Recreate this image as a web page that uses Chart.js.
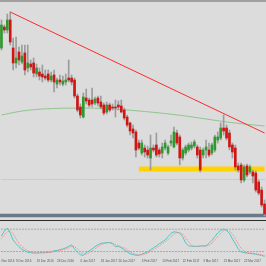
<!DOCTYPE html>
<html><head><meta charset="utf-8">
<script src="https://cdn.jsdelivr.net/npm/chart.js@4.4.0/dist/chart.umd.min.js"></script>
<style>
html,body{margin:0;padding:0;background:#dcdcdc;width:266px;height:266px;overflow:hidden;}
#wrap{position:relative;width:266px;height:266px;}
#main{position:absolute;left:0;top:0;}
#osc{position:absolute;left:0;top:221px;}
.topline{position:absolute;left:0;top:0;width:266px;height:2px;background:#a0a0a0;}
.sep{position:absolute;left:0;top:220px;width:266px;height:1px;background:#2a2a2a;}
</style></head><body>
<div id="wrap">
<canvas id="main" width="266" height="220"></canvas>
<canvas id="osc" width="266" height="45"></canvas>
<div class="topline"></div><div class="sep"></div>
</div>
<script>
// ---- data ----
const opens = [14.17,14.38,14.35,14.45,14.17,14.02,14.13,14.03,14.12,13.97,
 14.01,14.02,13.91,13.93,13.91,13.89,13.91,13.85,13.90,13.81,
 13.85,13.81,13.83,13.87,13.87,13.85,13.69,13.58,13.48,13.67,
 13.65,13.65,13.62,13.67,13.63,13.60,13.53,13.60,13.58,13.58,
 13.60,13.59,13.55,13.48,13.42,13.36,13.33,13.22,13.12,13.17,
 13.15,13.07,13.17,13.20,13.15,13.12,13.17,13.12,13.22,13.18,
 13.32,13.28,13.07,13.12,13.15,13.17,13.19,13.18,13.15,13.10,
 13.15,13.15,13.12,13.15,13.25,13.27,13.37,13.37,13.32,13.20,
 13.17,12.99,13.00,12.85,12.99,12.93,12.93,12.92,12.83,12.75,
 12.61];
const highs = [14.45,14.40,14.51,14.53,14.27,14.28,14.18,14.20,14.20,14.20,
 14.05,14.07,14.01,13.97,14.00,13.95,13.95,13.93,13.95,13.87,
 13.90,13.89,13.91,14.05,13.90,13.87,13.71,13.61,13.72,13.76,
 13.67,13.77,13.68,13.69,13.69,13.62,13.63,13.62,13.61,13.65,
 13.64,13.65,13.57,13.50,13.43,13.40,13.35,13.25,13.25,13.20,
 13.19,13.30,13.20,13.32,13.17,13.22,13.25,13.20,13.30,13.38,
 13.35,13.30,13.17,13.20,13.22,13.23,13.25,13.20,13.18,13.17,
 13.25,13.22,13.22,13.30,13.33,13.42,13.50,13.40,13.35,13.22,
 13.20,13.02,13.02,13.00,13.01,13.00,12.95,12.94,12.85,12.78,
 12.65];
const lows = [14.15,14.32,14.32,14.20,13.95,13.97,14.00,14.01,13.90,13.93,
 13.95,13.88,13.88,13.85,13.83,13.85,13.83,13.83,13.73,13.77,
 13.80,13.79,13.80,13.83,13.80,13.67,13.53,13.47,13.47,13.61,
 13.58,13.58,13.60,13.59,13.56,13.50,13.51,13.53,13.55,13.48,
 13.55,13.52,13.45,13.38,13.30,13.27,13.08,13.15,13.10,13.08,
 13.07,12.95,13.13,13.08,13.08,13.07,13.15,13.10,13.19,13.17,
 13.20,13.00,13.05,13.10,13.13,13.15,13.17,13.07,12.93,13.07,
 13.07,13.08,13.10,13.13,13.22,13.25,13.30,13.25,13.15,13.07,
 12.95,12.93,12.82,12.83,12.88,12.91,12.82,12.73,12.70,12.58,
 12.49];
const closes = [14.40,14.35,14.45,14.23,14.02,14.07,14.05,14.09,13.95,14.02,
 13.98,13.92,13.97,13.89,13.88,13.87,13.85,13.89,13.83,13.85,
 13.83,13.84,13.85,13.85,13.83,13.69,13.55,13.50,13.68,13.64,
 13.60,13.61,13.66,13.62,13.58,13.52,13.60,13.55,13.57,13.57,
 13.58,13.53,13.47,13.40,13.34,13.32,13.15,13.17,13.22,13.13,
 13.10,13.17,13.15,13.10,13.11,13.18,13.22,13.18,13.24,13.33,
 13.22,13.07,13.15,13.18,13.20,13.20,13.23,13.10,12.95,13.15,
 13.18,13.10,13.20,13.28,13.28,13.37,13.34,13.27,13.18,13.13,
 12.98,12.95,12.85,12.98,12.90,12.98,12.89,12.75,12.72,12.60,
 12.51];
const stochMain = [62,75,83,70,51,41,33,26,22,18,
 17,16,16,17,17,17,18,19,22,23,
 25,27,30,34,38,27,19,11,10,17,
 22,27,33,38,42,43,44,44,41,33,
 34,30,25,19,14,12,10,10,13,16,
 19,25,30,35,41,46,51,60,69,73,
 72,69,60,43,35,34,34,34,35,35,
 35,42,50,60,70,77,80,77,69,54,
 41,27,19,17,16,15,14,13,11,10,
 7];
const stochSignal = [55,65,73,76,68,54,42,33,27,22,
 19,17,16,16,17,17,17,18,20,21,
 23,25,27,30,34,33,28,19,13,13,
 16,22,27,33,38,41,43,44,43,39,
 36,32,30,25,19,15,12,11,11,13,
 16,20,25,30,35,41,46,52,60,67,
 71,71,67,57,46,37,34,34,34,35,
 35,37,42,51,60,69,76,78,75,67,
 55,41,29,21,17,16,15,14,13,11,
 9];
const maPoints = [[0,13.50],[7,13.54],[14,13.56],[21,13.568],[28,13.57],[35,13.565],[42,13.553],
 [49,13.535],[56,13.515],[63,13.49],[70,13.46],[77,13.43],[84,13.407],[90,13.39]];
const trendFrom = [3, 14.53];
const trendTo = [90, 13.32];
const supportStart = 47;
const supportLevel = 12.96;
const floorLevel = 12.495;
const faintLevel = 12.855;
const stochLevels = [80, 20];
const tickLabels = ['Nov 2016','9 Dec 2016','19 Dec 2016','28 Dec 2016','6 Jan 2017','18 Jan 2017',
 '26 Jan 2017','3 Feb 2017','13 Feb 2017','22 Feb 2017','3 Mar 2017','13 Mar 2017','22 Mar 2017'];
const tickBars = [0,5,12,19,27,34,40,48,55,62,69,76,83];

// ---- build ----
const N = opens.length;
const labels = opens.map((_, i) => { const k = tickBars.indexOf(i); return k >= 0 ? tickLabels[k] : ''; });
const wicks = lows.map((l, i) => [l, highs[i]]);
const bodies = opens.map((o, i) => [o, closes[i]]);
const bodyColors = opens.map((o, i) => closes[i] > o ? '#2e9a2e' : (closes[i] < o ? '#d01515' : '#777'));
const maData = new Array(N).fill(null); maPoints.forEach(([i, v]) => { maData[i] = v; });
const trendData = new Array(N).fill(null); trendData[trendFrom[0]] = trendFrom[1]; trendData[trendTo[0]] = trendTo[1];
const supportData = labels.map((_, i) => i >= supportStart ? supportLevel : null);
const floorData = labels.map(() => floorLevel);
const faintData = labels.map(() => faintLevel);

const lineBase = { type: 'line', pointRadius: 0, pointHoverRadius: 0, fill: false, tension: 0 };

new Chart(document.getElementById('main'), {
  type: 'bar',
  data: {
    labels,
    datasets: [
      { ...lineBase, data: trendData, borderColor: '#ff2a2a', borderWidth: 1, spanGaps: true, order: 0 },
      { type: 'bar', data: bodies, backgroundColor: bodyColors, barThickness: 2, grouped: false, minBarLength: 1, order: 1 },
      { type: 'bar', data: wicks, backgroundColor: '#9c9c9c', barThickness: 1, grouped: false, order: 2 },
      { ...lineBase, data: maData, borderColor: '#8fc68f', borderWidth: 1, spanGaps: true, cubicInterpolationMode: 'monotone', order: 3 },
      { ...lineBase, data: supportData, borderColor: '#ffd200', borderWidth: 5, order: 5 },
      { ...lineBase, data: floorData, borderColor: '#67798b', borderWidth: 3.5, borderCapStyle: 'square', order: 6 },
      { ...lineBase, data: faintData, borderColor: '#cacaca', borderWidth: 1, borderCapStyle: 'square', order: 7 }
    ]
  },
  options: {
    responsive: false, animation: false, devicePixelRatio: 1,
    layout: { padding: 0, autoPadding: false },
    plugins: { legend: { display: false }, tooltip: { enabled: false } },
    scales: {
      x: { display: false, offset: true },
      y: { display: false, min: 12.45, max: 14.65 }
    }
  }
});

new Chart(document.getElementById('osc'), {
  type: 'line',
  data: {
    labels,
    datasets: [
      { ...lineBase, data: stochSignal, borderColor: '#f08585', borderWidth: 1, borderDash: [1, 1] },
      { ...lineBase, data: stochMain, borderColor: '#4cc8c8', borderWidth: 1 },
      { ...lineBase, data: labels.map(() => stochLevels[0]), borderColor: '#a8a8a8', borderWidth: 1, borderDash: [1, 2], borderCapStyle: 'square' },
      { ...lineBase, data: labels.map(() => stochLevels[1]), borderColor: '#a8a8a8', borderWidth: 1, borderDash: [1, 2], borderCapStyle: 'square' }
    ]
  },
  options: {
    responsive: false, animation: false, devicePixelRatio: 1,
    layout: { padding: 0, autoPadding: false },
    plugins: { legend: { display: false }, tooltip: { enabled: false } },
    scales: {
      x: {
        offset: true,
        grid: { display: false, drawTicks: false },
        border: { display: false },
        ticks: { autoSkip: false, maxRotation: 0, minRotation: 0, align: 'start', padding: 0.5,
                 color: '#555555', font: { size: 3, family: 'Liberation Sans' } },
        afterFit: (s) => { s.height = 7; }
      },
      y: { display: false, min: 0, max: 102 }
    }
  }
});
</script>
</body></html>
